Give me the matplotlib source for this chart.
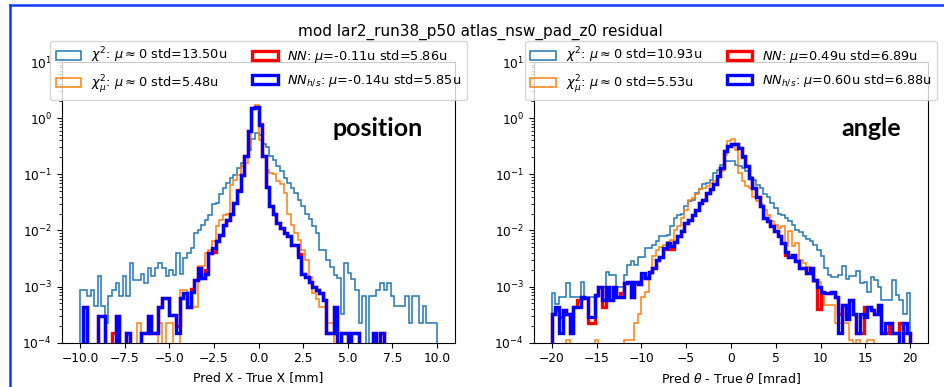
import numpy as np
import matplotlib
matplotlib.use("Agg")
import matplotlib.pyplot as plt
from matplotlib.lines import Line2D

# ---------------- data (bin densities) ----------------
pos_range = (-10.0, 10.0)
ang_range = (-20.0, 20.0)
n_bins = 100

chi2_pos = [8.7e-4, 8.7e-4, 6.8e-4, 8.7e-4, 4.5e-4, 1.55e-3, 4.5e-4, 2.2e-4, 6.8e-4, 8.7e-4,
            1.15e-3, 6.8e-4, 1.55e-3, 6.8e-4, 2.6e-3, 1.3e-3, 1.3e-3, 1.7e-3, 1.15e-3, 2.1e-3,
            1.55e-3, 2.1e-3, 2.6e-3, 2.1e-3, 1.55e-3,
            2.0e-3, 1.6e-3, 3.9e-3, 1.7e-3, 3.2e-3, 3.9e-3, 4.8e-3, 8.9e-3, 1.0e-2, 1.26e-2,
            1.55e-2, 1.9e-2, 2.9e-2, 3.1e-2, 4.4e-2, 5.7e-2, 7.0e-2, 8.6e-2, 9.9e-2, 0.13,
            0.16, 0.21, 0.275, 0.42, 0.55,
            0.51, 0.34, 0.30, 0.21, 0.18, 0.14, 0.113, 0.086, 0.070, 0.057,
            0.046, 0.035, 0.027, 0.020, 0.016, 0.0118, 0.0089, 0.0045, 0.0045, 0.0030,
            0.0022, 0.0016, 0.0014, 3.3e-4, 2.6e-3,
            1.74e-3, 1.35e-3, 8.7e-4, 2.2e-4, 6.8e-4, 0, 6.8e-4, 6.8e-4, 8.7e-4, 1.15e-3,
            8.7e-4, 1.15e-3, 6.8e-4, 4.5e-4, 4.5e-4, 4.5e-4, 6.8e-4, 2.2e-4, 6.8e-4, 6.8e-4,
            2.2e-4, 4.5e-4, 2.2e-4, 2.2e-4, 2.2e-4]

chi2mu_pos = [0, 0, 0, 0, 0, 0, 0, 0, 0, 0,
              0, 0, 0, 0, 0, 0, 2.2e-4, 0, 0, 0,
              0, 0, 2.2e-4, 0, 2.2e-4,
              2.2e-4, 0, 0, 8.7e-4, 8.7e-4, 4.4e-4, 4.4e-4, 4.4e-4, 2.3e-3, 2.3e-3,
              3.9e-3, 4.5e-3, 6.4e-3, 0.0118, 0.0155, 0.019, 0.020, 0.065, 0.080, 0.099,
              0.139, 0.16, 0.32, 1.43, 1.7,
              0.4, 0.2, 0.12, 0.106, 0.1, 0.075, 0.066, 0.046, 0.02, 0.0126,
              0.0089, 0.0068, 0.0045, 0.003, 0.0015, 7.6e-4, 6e-4, 4.4e-4, 4.4e-4, 2.2e-4,
              2.2e-4, 0, 0, 0, 0,
              0, 0, 0, 0, 0, 0, 0, 0, 0, 0,
              0, 0, 0, 0, 0, 0, 0, 0, 0, 0,
              0, 0, 0, 0, 0]

nnhls_pos = [0, 4.4e-4, 0, 0, 0, 3e-4, 3e-4, 0, 0, 0,
             3e-4, 0, 0, 1.5e-4, 0, 0, 0, 1.5e-4, 1.5e-4, 3e-4,
             1.5e-4, 1.5e-4, 4.4e-4, 6.2e-4, 6.2e-4,
             3.1e-4, 3.1e-4, 1.5e-4, 6.2e-4, 7.6e-4, 4.4e-4, 8.1e-4, 1.3e-3, 2.1e-3, 1.4e-3,
             1.7e-3, 3.9e-3, 4.8e-3, 6.4e-3, 8.4e-3, 0.0126, 0.0155, 0.020, 0.031, 0.050,
             0.099, 0.21, 0.58, 1.5, 1.6,
             0.77, 0.21, 0.06, 0.027, 0.020, 0.0135, 0.011, 0.0089, 0.0078, 0.0055,
             0.0055, 0.0034, 0.0017, 0.0015, 0.0012, 0.0010, 8.7e-4, 7.6e-4, 5.8e-4, 1.5e-4,
             1.5e-4, 4.4e-4, 0, 1.5e-4, 1.5e-4,
             0, 1.5e-4, 1.5e-4, 0, 0, 0, 0, 1.5e-4, 0, 1.5e-4,
             0, 0, 0, 0, 0, 0, 0, 0, 0, 0,
             0, 0, 0, 0, 0]

nn_pos = [0, 4.4e-4, 0, 0, 0, 3e-4, 3e-4, 0, 0, 1.5e-4,
          3e-4, 0, 0, 1.5e-4, 0, 0, 0, 1.5e-4, 1.5e-4, 3e-4,
          1.5e-4, 1.5e-4, 4.4e-4, 6.2e-4, 6.2e-4,
          3.1e-4, 3.1e-4, 2.0e-4, 6.2e-4, 7.6e-4, 4.4e-4, 9.0e-4, 1.3e-3, 2.1e-3, 1.4e-3,
          2.0e-3, 3.9e-3, 4.2e-3, 6.4e-3, 8.4e-3, 0.0126, 0.0155, 0.020, 0.031, 0.052,
          0.099, 0.21, 0.58, 1.5, 1.6,
          0.80, 0.21, 0.06, 0.027, 0.020, 0.0135, 0.011, 0.0089, 0.0078, 0.0055,
          0.0055, 0.0038, 0.0017, 0.0015, 0.0012, 0.0010, 8.7e-4, 7.6e-4, 5.8e-4, 1.5e-4,
          1.5e-4, 4.4e-4, 0, 1.5e-4, 1.5e-4,
          0, 1.5e-4, 1.5e-4, 0, 0, 0, 0, 1.5e-4, 0, 1.5e-4,
          0, 0, 0, 0, 0, 0, 0, 0, 0, 0,
          0, 0, 0, 0, 0]

chi2_ang = [7.8e-4, 4.9e-4, 6.6e-4, 6.6e-4, 1.15e-3, 6.6e-4, 6.6e-4, 6.6e-4, 1.23e-3, 6.6e-4,
            6.6e-4, 6.6e-4, 6.6e-4, 1.0e-3, 1.0e-3, 1.85e-3, 1.6e-3, 1.6e-3, 1.0e-3, 1.0e-3,
            1.6e-3, 2.45e-3, 2.8e-3, 2.45e-3, 3.4e-3,
            3.4e-3, 4.8e-3, 4.8e-3, 5.5e-3, 6.4e-3, 7.8e-3, 8.0e-3, 8.4e-3, 0.0118, 0.0166,
            0.019, 0.020, 0.027, 0.033, 0.035, 0.047, 0.054, 0.066, 0.070, 0.080,
            0.106, 0.121, 0.149, 0.17, 0.17,
            0.17, 0.149, 0.139, 0.13, 0.113, 0.09, 0.080, 0.065, 0.057, 0.045,
            0.040, 0.031, 0.025, 0.020, 0.019, 0.0166, 0.0145, 0.0125, 0.010, 0.0095,
            8.0e-3, 7.0e-3, 6.5e-3, 5.5e-3, 4.5e-3,
            3.5e-3, 2.1e-3, 1.6e-3, 1.5e-3, 1.5e-3, 1.6e-3, 2.3e-3, 1.35e-3, 1.55e-3, 1.55e-3,
            1.9e-3, 1.18e-3, 1.23e-3, 8.1e-4, 1.47e-3, 1.32e-3, 1.0e-3, 5.8e-4, 5.8e-4, 5.8e-4,
            1.32e-3, 7.1e-4, 5.8e-4, 3.3e-4, 7.6e-4]

chi2mu_ang = [0, 0, 0, 0, 1.1e-4, 0, 0, 0, 0, 0,
              0, 0, 1.1e-4, 0, 0, 0, 0, 0, 0, 0,
              1.1e-4, 1.1e-4, 1.1e-4, 2.2e-4, 3.3e-4,
              6.6e-4, 8.1e-4, 1.7e-3, 3.5e-3, 4.5e-3, 5.0e-3, 5.5e-3, 6.2e-3, 6.8e-3, 0.0102,
              0.0118, 0.0166, 0.0235, 0.035, 0.038, 0.044, 0.054, 0.057, 0.061, 0.070,
              0.075, 0.090, 0.113, 0.22, 0.39,
              0.42, 0.275, 0.106, 0.075, 0.061, 0.057, 0.040, 0.033, 0.029, 0.0235,
              0.019, 0.0145, 0.0126, 0.011, 0.0118, 5.2e-3, 9.6e-3, 5.2e-3, 6.0e-3, 3.0e-3,
              2.6e-3, 2.2e-3, 2.0e-3, 1.23e-3, 1.23e-3,
              6.6e-4, 4.7e-4, 4.7e-4, 4.7e-4, 2.2e-4, 2.2e-4, 2.2e-4, 2.2e-4, 1.1e-4, 0,
              1.1e-4, 0, 0, 1.1e-4, 1.1e-4, 0, 0, 0, 0, 0,
              0, 0, 0, 0, 0]

nnhls_ang = [3.3e-4, 4.4e-4, 1.5e-4, 3.8e-4, 3.3e-4, 1.5e-4, 4.4e-4, 4.4e-4, 6.6e-4, 6.2e-4,
             2.9e-4, 2.9e-4, 7.1e-4, 1.0e-3, 5.8e-4, 1.0e-3, 5.8e-4, 1.0e-3, 6.6e-4, 6.6e-4,
             1.15e-3, 1.23e-3, 6.6e-4, 1.23e-3, 1.1e-3,
             1.73e-3, 1.4e-3, 1.85e-3, 2.1e-3, 3.0e-3, 3.4e-3, 4.8e-3, 5.9e-3, 5.2e-3, 6.3e-3,
             7.8e-3, 9.6e-3, 0.0135, 0.0155, 0.019, 0.0235, 0.031, 0.035, 0.046, 0.054,
             0.066, 0.092, 0.13, 0.26, 0.32,
             0.34, 0.34, 0.295, 0.21, 0.139, 0.086, 0.057, 0.040, 0.027, 0.0166,
             0.0145, 0.0118, 9.6e-3, 7.8e-3, 5.9e-3, 4.2e-3, 3.4e-3, 3.7e-3, 2.8e-3, 2.1e-3,
             2.1e-3, 1.73e-3, 2.1e-3, 1.3e-3, 1.0e-3,
             8.0e-4, 7.6e-4, 7.6e-4, 8.1e-4, 6.6e-4, 1.5e-4, 4.7e-4, 2.6e-4, 5.8e-4, 3.3e-4,
             1.5e-4, 3.3e-4, 2.9e-4, 4.4e-4, 3.8e-4, 3.3e-4, 4.7e-4, 1.5e-4, 2.2e-4, 2.2e-4,
             1.5e-4, 1.5e-4, 0, 2.2e-4, 1.5e-4]

nn_ang = [3.3e-4, 3.8e-4, 2.9e-4, 3.8e-4, 3.3e-4, 1.5e-4, 4.4e-4, 5.8e-4, 6.6e-4, 6.2e-4,
          2.2e-4, 2.2e-4, 7.1e-4, 1.0e-3, 4.4e-4, 1.0e-3, 5.8e-4, 1.0e-3, 6.6e-4, 7.6e-4,
          1.15e-3, 1.23e-3, 6.6e-4, 1.23e-3, 1.1e-3,
          1.5e-3, 1.4e-3, 1.85e-3, 2.1e-3, 3.0e-3, 3.4e-3, 4.6e-3, 5.9e-3, 4.6e-3, 6.3e-3,
          7.8e-3, 9.6e-3, 0.0135, 0.0155, 0.019, 0.0235, 0.031, 0.035, 0.046, 0.054,
          0.066, 0.092, 0.13, 0.26, 0.32,
          0.34, 0.34, 0.295, 0.20, 0.139, 0.086, 0.057, 0.040, 0.027, 0.0166,
          0.0145, 0.0118, 9.6e-3, 7.8e-3, 5.9e-3, 3.7e-3, 3.4e-3, 3.7e-3, 2.8e-3, 2.1e-3,
          2.1e-3, 1.73e-3, 2.1e-3, 1.3e-3, 4.0e-4,
          8.0e-4, 7.6e-4, 7.6e-4, 8.1e-4, 6.6e-4, 3.3e-4, 4.7e-4, 2.6e-4, 5.8e-4, 3.3e-4,
          1.5e-4, 1.5e-4, 4.4e-4, 4.4e-4, 3.8e-4, 3.3e-4, 4.7e-4, 1.5e-4, 1.5e-4, 2.2e-4,
          1.5e-4, 1.5e-4, 2.2e-4, 1.5e-4, 1.5e-4]

labels_pos = [r'$\chi^2$: $\mu\approx0$ std=13.50u',
              r'$\chi^2_\mu$: $\mu\approx0$ std=5.48u',
              r'$NN$: $\mu$=-0.11u std=5.86u',
              r'$NN_{h/s}$: $\mu$=-0.14u std=5.85u']
labels_ang = [r'$\chi^2$: $\mu\approx0$ std=10.93u',
              r'$\chi^2_\mu$: $\mu\approx0$ std=5.53u',
              r'$NN$: $\mu$=0.49u std=6.89u',
              r'$NN_{h/s}$: $\mu$=0.60u std=6.88u']

title = 'mod lar2_run38_p50 atlas_nsw_pad_z0 residual'
xlabel_pos = 'Pred X - True X [mm]'
xlabel_ang = r'Pred $\theta$ - True $\theta$ [mrad]'
tag_pos = 'position'
tag_ang = 'angle'

# ---------------- figure ----------------
W, H = 944, 387
fig = plt.figure(figsize=(W / 100, H / 100), dpi=100)
fs = 8.8
fs_leg = 9.3

def px_axes(x0, x1, ytop, ybot):
    return [x0 / W, 1 - ybot / H, (x1 - x0) / W, (ybot - ytop) / H]

ax1 = fig.add_axes(px_axes(62, 455, 62, 342.7))
ax2 = fig.add_axes(px_axes(534, 928, 62, 342.7))

styles = [dict(color='#1f77b4', lw=1.1),
          dict(color='#ff7f0e', lw=1.1),
          dict(color='red', lw=2.4),
          dict(color='blue', lw=2.4)]

def draw(ax, rng, series, labels, xlabel, xlim):
    edges = np.linspace(rng[0], rng[1], n_bins + 1)
    for vals, lab, st in zip(series, labels, styles):
        ax.hist(edges[:-1], bins=edges, weights=vals, histtype='step',
                log=True, label=lab, **st)
    ax.set_yscale('log', nonpositive='clip')
    ax.set_ylim(1e-4, 10)
    ax.set_xlim(*xlim)
    ax.set_xlabel(xlabel, fontsize=9)
    ax.tick_params(labelsize=fs)
    ax.legend(ncol=2, loc='upper center', bbox_to_anchor=(0.5, 1.076),
              borderaxespad=0, fontsize=fs_leg, handlelength=2.0,
              handletextpad=0.75, columnspacing=1.9, labelspacing=0.6)

draw(ax1, pos_range, [chi2_pos, chi2mu_pos, nn_pos, nnhls_pos], labels_pos,
     xlabel_pos, (-11, 11))
draw(ax2, ang_range, [chi2_ang, chi2mu_ang, nn_ang, nnhls_ang], labels_ang,
     xlabel_ang, (-22, 22))

fig.text(480 / W, 1 - 36 / H, title, ha='center', va='baseline', fontsize=11)
fig.text(377.5 / W, 1 - 136 / H, tag_pos, ha='center', va='baseline',
         fontsize=18, fontweight='bold', family='Lato')
fig.text(871 / W, 1 - 136 / H, tag_ang, ha='center', va='baseline',
         fontsize=18, fontweight='bold', family='Lato')

# slide frame (blue border)
fig.add_artist(Line2D([9.5 / W, 9.5 / W], [0, 1 - 5 / H], color='#0a3cff', lw=1.8,
                      transform=fig.transFigure))
fig.add_artist(Line2D([9.5 / W, 1], [1 - 5 / H, 1 - 5 / H], color='#0a3cff', lw=1.8,
                      transform=fig.transFigure))

fig.savefig('out.png', dpi=100)
